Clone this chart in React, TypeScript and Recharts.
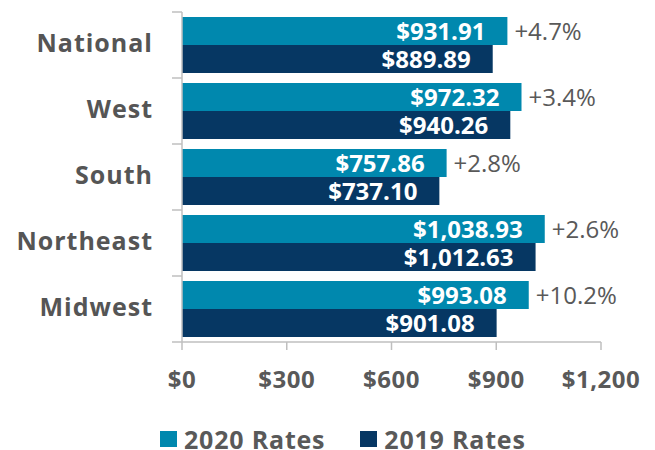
import { BarChart, Bar, XAxis, YAxis, Legend, LabelList } from 'recharts';

const regions = ['National', 'West', 'South', 'Northeast', 'Midwest'];
const rates2020 = [931.91, 972.32, 757.86, 1038.93, 993.08];
const rates2019 = [889.89, 940.26, 737.1, 1012.63, 901.08];
const changes = [4.7, 3.4, 2.8, 2.6, 10.2];
const xTicks = [0, 300, 600, 900, 1200];

const TEAL = '#0088ae';
const NAVY = '#063763';
const GREY = '#595959';
const FONT = '"Open Sans", sans-serif';
const BAND = 66;

const data = regions.map((region, i) => ({
    region,
    r2020: rates2020[i],
    r2019: rates2019[i],
    change: changes[i],
}));

const money = (v: number) =>
    '$' + v.toLocaleString('en-US', { minimumFractionDigits: 2, maximumFractionDigits: 2 });

// category label plus Excel-style ticks on band boundaries
const RegionTick = (props: any) => {
    const { x, y, payload, index } = props;
    const axisX = x + 29;
    return (
        <g>
            <line x1={axisX - 10} x2={axisX} y1={y - BAND / 2} y2={y - BAND / 2} stroke="#bfbfbf" strokeWidth={1.5} />
            {index === regions.length - 1 && (
                <line x1={axisX - 10} x2={axisX} y1={y + BAND / 2} y2={y + BAND / 2} stroke="#bfbfbf" strokeWidth={1.5} />
            )}
            <text x={x} y={y} dy="0.28em" textAnchor="end" fill="#555555" fontFamily={FONT} fontWeight={700} fontSize={25} letterSpacing={1}>
                {payload.value}
            </text>
        </g>
    );
};

const LegendContent = () => (
    <div style={{ display: 'flex', justifyContent: 'flex-start', alignItems: 'center', height: 48, paddingTop: 26, paddingLeft: 160, boxSizing: 'border-box', fontFamily: FONT, fontWeight: 700, fontSize: 25, lineHeight: '20px', letterSpacing: 0.8, color: GREY }}>
        {[['2020 Rates', TEAL], ['2019 Rates', NAVY]].map(([name, color], i) => (
            <div key={name} style={{ display: 'flex', alignItems: 'center', marginLeft: i ? 35 : 0 }}>
                <div style={{ width: 17, height: 16, background: color, marginRight: 7 }} />
                <span>{name}</span>
            </div>
        ))}
    </div>
);

export default function App() {
    return (
        <div style={{ position: 'absolute', left: 0, top: 0, background: '#fff' }}>
            <BarChart
                width={655}
                height={450}
                data={data}
                layout="vertical"
                margin={{ top: 12, right: 54, bottom: 0, left: 0 }}
                barCategoryGap={5}
                barGap={0}
            >
                <XAxis
                    type="number"
                    domain={[0, 1200]}
                    ticks={xTicks}
                    height={60}
                    stroke="#bfbfbf"
                    strokeWidth={1.5}
                    tickSize={8}
                    tickMargin={21}
                    tick={{ fill: GREY, fontFamily: FONT, fontWeight: 700, fontSize: 24, letterSpacing: 0.5 }}
                    tickFormatter={(v: number) => '$' + v.toLocaleString('en-US')}
                />
                <YAxis
                    type="category"
                    dataKey="region"
                    width={182}
                    stroke="#bfbfbf"
                    strokeWidth={1.5}
                    tickLine={false}
                    tickSize={0}
                    tickMargin={29}
                    tick={<RegionTick />}
                />
                <Legend verticalAlign="bottom" height={48} content={<LegendContent />} />
                <Bar dataKey="r2020" name="2020 Rates" fill={TEAL} isAnimationActive={false}>
                    <LabelList dataKey="r2020" position="insideRight" offset={22} formatter={money} fill="#ffffff" fontFamily={FONT} fontWeight={700} fontSize={24} />
                    <LabelList dataKey="change" position="right" offset={7} formatter={(v: number) => `+${v}%`} fill={GREY} fontFamily={FONT} fontSize={24} />
                </Bar>
                <Bar dataKey="r2019" name="2019 Rates" fill={NAVY} isAnimationActive={false}>
                    <LabelList dataKey="r2019" position="insideRight" offset={22} formatter={money} fill="#ffffff" fontFamily={FONT} fontWeight={700} fontSize={24} />
                </Bar>
            </BarChart>
        </div>
    );
}
